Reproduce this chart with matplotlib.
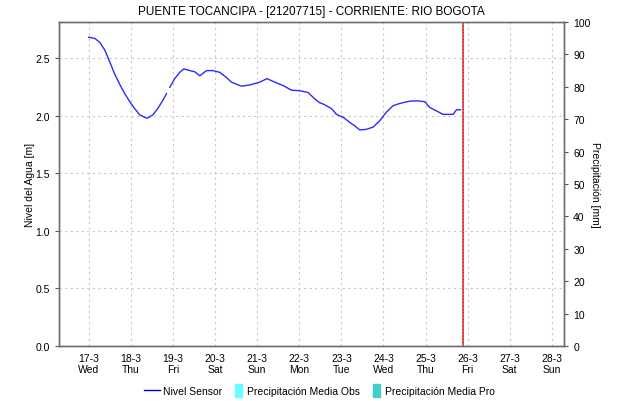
import datetime as dt

import matplotlib
matplotlib.use("Agg")
import matplotlib.pyplot as plt
from matplotlib.legend_handler import HandlerPatch
from matplotlib.lines import Line2D
from matplotlib.patches import Rectangle

plt.rcParams["font.family"] = ["Liberation Sans", "DejaVu Sans"]

# sensor level readings, hours after 17-3 00:00 and level in metres
hours_a = [0, 3.4, 6.3, 9.1, 12.0, 14.8, 17.7, 20.5, 23.4, 26.2, 29.1, 33.2,
           36.5, 39.3, 42.2, 44.3]
level_a = [2.68, 2.67, 2.635, 2.57, 2.465, 2.36, 2.27, 2.19, 2.12, 2.06, 2.005,
           1.976, 2.005, 2.06, 2.13, 2.19]
hours_b = [46.2, 49.0, 51.9, 54.2, 57.6, 60.4, 63.3, 67.1, 70.7, 74.7, 78.5,
           81.3, 87.0, 91.8, 97.5, 101.6, 106.0, 110.8, 115.6, 120.3, 125.0,
           128.8, 131.7, 133.6, 138.4, 141.2, 145.0, 148.8, 151.6, 154.5,
           158.3, 162.1, 165.9, 169.7, 173.5, 177.3, 183.0, 187.7, 191.5,
           194.4, 198.2, 202.0, 207.7, 209.6, 211.9]
level_b = [2.245, 2.32, 2.375, 2.405, 2.39, 2.38, 2.345, 2.39, 2.39, 2.375,
           2.33, 2.29, 2.255, 2.265, 2.29, 2.32, 2.29, 2.26, 2.22, 2.215, 2.20,
           2.145, 2.11, 2.10, 2.06, 2.01, 1.985, 1.94, 1.91, 1.875, 1.88, 1.90,
           1.955, 2.03, 2.085, 2.105, 2.125, 2.127, 2.12, 2.07, 2.04, 2.01,
           2.01, 2.05, 2.05]

day_labels = ["17-3\nWed", "18-3\nThu", "19-3\nFri", "20-3\nSat", "21-3\nSun",
              "22-3\nMon", "23-3\nTue", "24-3\nWed", "25-3\nThu", "26-3\nFri",
              "27-3\nSat", "28-3\nSun"]

start = dt.datetime(2021, 3, 17)
now_mark = start + dt.timedelta(hours=213.2)

t_a = [start + dt.timedelta(hours=h) for h in hours_a]
t_b = [start + dt.timedelta(hours=h) for h in hours_b]
days = [start + dt.timedelta(days=i) for i in range(len(day_labels))]

fig = plt.figure(figsize=(6.2, 4.02), dpi=100)
ax = fig.add_axes([0.095, 0.137, 0.815, 0.806])

ax.plot(t_a, level_a, color="#2a2aff", lw=1.0)
ax.plot(t_b, level_b, color="#2a2aff", lw=1.0)
ax.axvline(now_mark, color="#e8262a", lw=1.1)
ax.axvline(now_mark, color="#8a1010", lw=0.6, ls=(0, (1, 3)))

ax.set_xlim(start - dt.timedelta(hours=17), start + dt.timedelta(hours=24 * 11 + 7))
ax.set_ylim(0, 2.8125)
ax.set_xticks(days)
ax.set_xticklabels(day_labels)
ax.set_yticks([0, 0.5, 1.0, 1.5, 2.0, 2.5])
ax.set_yticklabels(["0.0", "0.5", "1.0", "1.5", "2.0", "2.5"])
ax.grid(True, color="#c8c8c8", ls=(0, (2, 3)), lw=0.8)
ax.tick_params(axis="x", length=0, labelsize=7.5, pad=5)
ax.tick_params(axis="y", length=3, width=0.8, labelsize=7.5, color="#555555")
ax.set_ylabel("Nivel del Agua [m]", fontsize=7.5, va="center")
ax.yaxis.set_label_coords(-0.057, 0.5)
for s in ax.spines.values():
    s.set_color("#6e6e6e")
    s.set_linewidth(1.0)

ax2 = ax.twinx()
ax2.set_ylim(0, 100)
ax2.set_yticks(range(0, 101, 10))
ax2.tick_params(axis="y", length=3, width=0.8, labelsize=7.5, color="#555555")
ax2.set_ylabel("Precipitación [mm]", fontsize=7.5, rotation=-90, va="center")
ax2.yaxis.set_label_coords(1.06, 0.5)
for s in ax2.spines.values():
    s.set_color("#6e6e6e")
    s.set_linewidth(1.0)

ax.set_title("PUENTE TOCANCIPA - [21207715] - CORRIENTE: RIO BOGOTA",
             fontsize=8.5, pad=6)


def narrow_bar(legend, orig_handle, xdescent, ydescent, width, height, fontsize):
    return Rectangle((width - xdescent - 6, -ydescent - 2), 5, height + 4)


handles = [Line2D([], [], color="#0000cc", lw=1.0),
           Rectangle((0, 0), 1, 1, color="#66ffff"),
           Rectangle((0, 0), 1, 1, color="#44cccc")]
labels = ["Nivel Sensor", "Precipitación Media Obs", "Precipitación Media Pro"]
fig.legend(handles, labels, loc="center", bbox_to_anchor=(0.515, 0.025), ncol=3,
           frameon=False, fontsize=7.5, handlelength=1.5, handletextpad=0.35,
           columnspacing=0.5,
           handler_map={Rectangle: HandlerPatch(patch_func=narrow_bar)})

fig.savefig("out.png", dpi=100)
